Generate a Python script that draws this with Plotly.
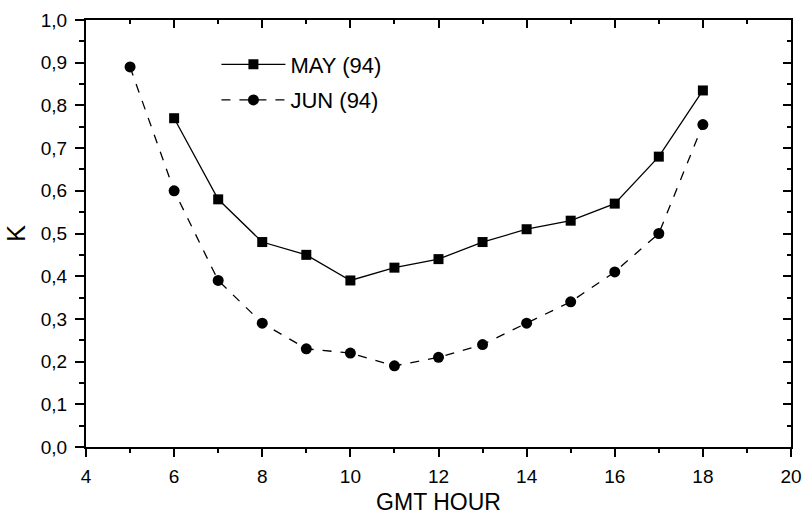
import plotly.graph_objects as go

may_hours = [6, 7, 8, 9, 10, 11, 12, 13, 14, 15, 16, 17, 18]
may_k = [0.77, 0.58, 0.48, 0.45, 0.39, 0.42, 0.44, 0.48, 0.51, 0.53, 0.57, 0.68, 0.835]
jun_hours = [5, 6, 7, 8, 9, 10, 11, 12, 13, 14, 15, 16, 17, 18]
jun_k = [0.89, 0.60, 0.39, 0.29, 0.23, 0.22, 0.19, 0.21, 0.24, 0.29, 0.34, 0.41, 0.50, 0.755]

x_range = [4, 20]
y_range = [0, 1.0]

FONT = "Liberation Sans, Arial, sans-serif"

fig = go.Figure()
fig.add_trace(go.Scatter(
    x=may_hours, y=may_k, name="MAY (94)", mode="lines+markers",
    line=dict(color="black", width=1.3, dash="solid"),
    marker=dict(symbol="square", size=10, color="black"),
    legendgroup="may",
))
fig.add_trace(go.Scatter(
    x=jun_hours, y=jun_k, name="JUN (94)", mode="lines+markers",
    line=dict(color="black", width=1.3, dash="dash"),
    marker=dict(symbol="circle", size=11, color="black"),
    legendgroup="jun",
))
# invisible trace to carry the mirrored (top/right) axes
fig.add_trace(go.Scatter(
    x=may_hours, y=may_k, xaxis="x2", yaxis="y2", mode="markers",
    marker=dict(opacity=0), showlegend=False, hoverinfo="skip",
))

common = dict(showgrid=False, zeroline=False, color="black", automargin=False,
              tickfont=dict(family=FONT, size=19, color="black"))

fig.update_layout(
    width=802, height=517,
    margin=dict(l=86, r=11, t=20, b=70),
    paper_bgcolor="white", plot_bgcolor="white",
    separators=",.",
    font=dict(family=FONT, color="black"),
    showlegend=True,
    legend=dict(x=0.185, y=0.945, xanchor="left", yanchor="top",
                font=dict(family=FONT, size=22, color="black"),
                bgcolor="rgba(0,0,0,0)", tracegroupgap=4,
                traceorder="grouped", itemwidth=64),
    xaxis=dict(range=x_range, dtick=2, tick0=4, ticks="outside", ticklen=8,
               tickwidth=2, showline=True, linewidth=2, linecolor="black",
               mirror=True, ticklabelstandoff=3,
               minor=dict(dtick=1, ticks="outside", ticklen=4, tickwidth=2,
                          tickcolor="black"),
               title=dict(text="GMT HOUR", font=dict(family=FONT, size=23),
                          standoff=8),
               **common),
    yaxis=dict(range=y_range, dtick=0.1, tick0=0, tickformat=".1f",
               ticks="outside", ticklen=9, tickwidth=2, showline=True,
               linewidth=2, linecolor="black", mirror=True,
               ticklabelstandoff=4,
               minor=dict(dtick=0.05, ticks="outside", ticklen=5, tickwidth=2,
                          tickcolor="black"),
               title=dict(text="K", font=dict(family=FONT, size=25),
                          standoff=8),
               **common),
    xaxis2=dict(range=x_range, overlaying="x", side="top", dtick=2, tick0=4,
                ticks="inside", ticklen=8, tickwidth=2, showticklabels=False,
                showline=False, showgrid=False, zeroline=False,
                tickcolor="black", automargin=False,
                minor=dict(dtick=1, ticks="inside", ticklen=4, tickwidth=2,
                           tickcolor="black")),
    yaxis2=dict(range=y_range, overlaying="y", side="right", dtick=0.1, tick0=0,
                ticks="inside", ticklen=8, tickwidth=2, showticklabels=False,
                showline=False, showgrid=False, zeroline=False,
                tickcolor="black", automargin=False,
                minor=dict(dtick=0.05, ticks="inside", ticklen=4, tickwidth=2,
                           tickcolor="black")),
)

fig.write_html("out.html")
